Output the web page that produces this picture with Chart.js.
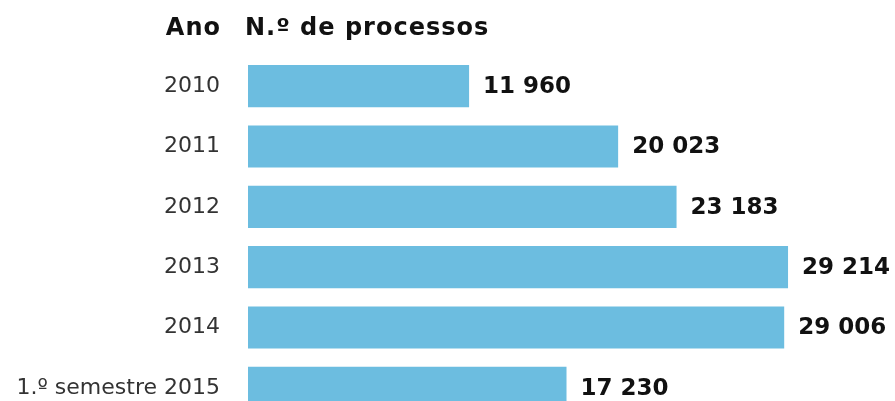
<!DOCTYPE html>
<html>
<head>
<meta charset="utf-8">
<script src="https://cdn.jsdelivr.net/npm/chart.js@4/dist/chart.umd.min.js"></script>
<style>
  html, body { margin: 0; padding: 0; background: #fff; overflow: hidden; }
  canvas { display: block; }
</style>
</head>
<body>
<canvas id="chart" width="895" height="420"></canvas>
<script>
const anos = ['2010', '2011', '2012', '2013', '2014', '1.º semestre 2015'];
const processos = [11960, 20023, 23183, 29214, 29006, 17230];
const tituloAno = 'Ano';
const tituloValor = 'N.º de processos';

const fonte = '"DejaVu Sans", Verdana, sans-serif';

function formatar(v) {
    return String(v).replace(/\B(?=(\d{3})+(?!\d))/g, ' ');
}

// rótulos de valor + cabeçalho
const rotulos = {
    id: 'rotulos',
    afterDatasetsDraw(chart) {
        const ctx = chart.ctx;
        const meta = chart.getDatasetMeta(0);
        ctx.save();
        ctx.font = 'bold 23px ' + fonte;
        ctx.fillStyle = '#111';
        ctx.textBaseline = 'middle';
        ctx.textAlign = 'left';
        meta.data.forEach((bar, i) => {
            ctx.fillText(formatar(processos[i]), bar.x + 14, bar.y + 1);
        });

        const yScale = chart.scales.y;
        ctx.font = 'bold 24px ' + fonte;
        ctx.letterSpacing = '1px';
        ctx.textAlign = 'right';
        ctx.fillText(tituloAno, yScale.right - 27, 29);
        ctx.textAlign = 'left';
        ctx.fillText(tituloValor, chart.chartArea.left - 3, 29);
        ctx.restore();
    }
};

new Chart(document.getElementById('chart'), {
    type: 'bar',
    data: {
        labels: anos,
        datasets: [{
            data: processos,
            backgroundColor: '#6cbde0',
            borderWidth: 0,
            barPercentage: 0.7,
            categoryPercentage: 1
        }]
    },
    options: {
        indexAxis: 'y',
        responsive: false,
        animation: false,
        layout: { padding: { top: 56, bottom: 2, left: 0, right: 0 } },
        plugins: {
            legend: { display: false },
            tooltip: { enabled: false }
        },
        scales: {
            x: {
                display: false,
                min: 0,
                max: 35000
            },
            y: {
                grid: { display: false },
                border: { display: false },
                ticks: {
                    color: '#333',
                    padding: 20,
                    font: { family: fonte, size: 22 }
                },
                afterFit(scale) {
                    scale.width = 248;
                    scale.paddingTop = 0;
                    scale.paddingBottom = 0;
                }
            }
        }
    },
    plugins: [rotulos]
});
</script>
</body>
</html>
